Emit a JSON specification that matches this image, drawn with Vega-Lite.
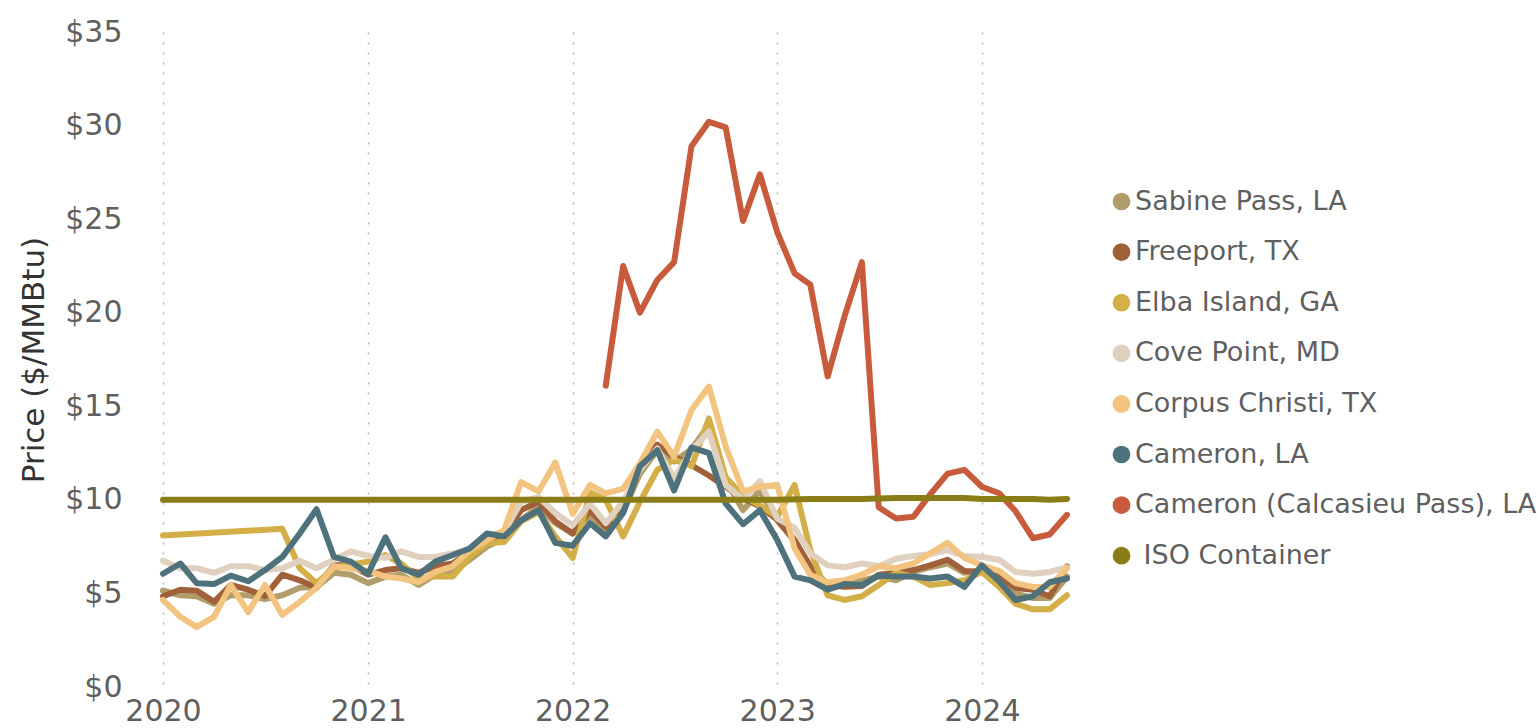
{
"$schema": "https://vega.github.io/schema/vega-lite/v6.json",
"width": 904, "height": 655,
"autosize": {"type": "none"},
"padding": {"left": 163, "top": 32, "right": 471, "bottom": 41},
"background": "white",
"config": {"view": {"stroke": null}, "font": "DejaVu Sans"},
"data": {"values": [
{"date":"2020-01-01","series":"Sabine Pass, LA","price":5.15},{"date":"2020-02-01","series":"Sabine Pass, LA","price":4.9},{"date":"2020-03-01","series":"Sabine Pass, LA","price":4.85},{"date":"2020-04-01","series":"Sabine Pass, LA","price":4.45},{"date":"2020-05-01","series":"Sabine Pass, LA","price":4.9},{"date":"2020-06-01","series":"Sabine Pass, LA","price":4.9},{"date":"2020-07-01","series":"Sabine Pass, LA","price":4.7},{"date":"2020-08-01","series":"Sabine Pass, LA","price":4.9},{"date":"2020-09-01","series":"Sabine Pass, LA","price":5.3},{"date":"2020-10-01","series":"Sabine Pass, LA","price":5.35},{"date":"2020-11-01","series":"Sabine Pass, LA","price":6.1},{"date":"2020-12-01","series":"Sabine Pass, LA","price":6.0},
{"date":"2021-01-01","series":"Sabine Pass, LA","price":5.55},{"date":"2021-02-01","series":"Sabine Pass, LA","price":5.9},{"date":"2021-03-01","series":"Sabine Pass, LA","price":6.0},{"date":"2021-04-01","series":"Sabine Pass, LA","price":5.45},{"date":"2021-05-01","series":"Sabine Pass, LA","price":6.0},{"date":"2021-06-01","series":"Sabine Pass, LA","price":6.15},{"date":"2021-07-01","series":"Sabine Pass, LA","price":6.8},{"date":"2021-08-01","series":"Sabine Pass, LA","price":7.5},{"date":"2021-09-01","series":"Sabine Pass, LA","price":7.95},{"date":"2021-10-01","series":"Sabine Pass, LA","price":8.9},{"date":"2021-11-01","series":"Sabine Pass, LA","price":9.65},{"date":"2021-12-01","series":"Sabine Pass, LA","price":8.75},
{"date":"2022-01-01","series":"Sabine Pass, LA","price":8.2},{"date":"2022-02-01","series":"Sabine Pass, LA","price":9.2},{"date":"2022-03-01","series":"Sabine Pass, LA","price":8.35},{"date":"2022-04-01","series":"Sabine Pass, LA","price":9.35},{"date":"2022-05-01","series":"Sabine Pass, LA","price":11.4},{"date":"2022-06-01","series":"Sabine Pass, LA","price":12.65},{"date":"2022-07-01","series":"Sabine Pass, LA","price":12.05},{"date":"2022-08-01","series":"Sabine Pass, LA","price":12.7},{"date":"2022-09-01","series":"Sabine Pass, LA","price":14.0},{"date":"2022-10-01","series":"Sabine Pass, LA","price":11.05},{"date":"2022-11-01","series":"Sabine Pass, LA","price":9.45},{"date":"2022-12-01","series":"Sabine Pass, LA","price":10.5},
{"date":"2023-01-01","series":"Sabine Pass, LA","price":8.9},{"date":"2023-02-01","series":"Sabine Pass, LA","price":7.8},{"date":"2023-03-01","series":"Sabine Pass, LA","price":6.25},{"date":"2023-04-01","series":"Sabine Pass, LA","price":5.55},{"date":"2023-05-01","series":"Sabine Pass, LA","price":5.65},{"date":"2023-06-01","series":"Sabine Pass, LA","price":5.7},{"date":"2023-07-01","series":"Sabine Pass, LA","price":5.9},{"date":"2023-08-01","series":"Sabine Pass, LA","price":5.7},{"date":"2023-09-01","series":"Sabine Pass, LA","price":6.15},{"date":"2023-10-01","series":"Sabine Pass, LA","price":6.4},{"date":"2023-11-01","series":"Sabine Pass, LA","price":6.6},{"date":"2023-12-01","series":"Sabine Pass, LA","price":6.1},
{"date":"2024-01-01","series":"Sabine Pass, LA","price":6.25},{"date":"2024-02-01","series":"Sabine Pass, LA","price":5.7},{"date":"2024-03-01","series":"Sabine Pass, LA","price":5.0},{"date":"2024-04-01","series":"Sabine Pass, LA","price":4.75},{"date":"2024-05-01","series":"Sabine Pass, LA","price":4.75},{"date":"2024-06-01","series":"Sabine Pass, LA","price":5.9},

{"date":"2020-01-01","series":"Freeport, TX","price":4.85},{"date":"2020-02-01","series":"Freeport, TX","price":5.2},{"date":"2020-03-01","series":"Freeport, TX","price":5.15},{"date":"2020-04-01","series":"Freeport, TX","price":4.55},{"date":"2020-05-01","series":"Freeport, TX","price":5.45},{"date":"2020-06-01","series":"Freeport, TX","price":5.2},{"date":"2020-07-01","series":"Freeport, TX","price":4.85},{"date":"2020-08-01","series":"Freeport, TX","price":6.0},{"date":"2020-09-01","series":"Freeport, TX","price":5.7},{"date":"2020-10-01","series":"Freeport, TX","price":5.3},{"date":"2020-11-01","series":"Freeport, TX","price":6.5},{"date":"2020-12-01","series":"Freeport, TX","price":6.5},
{"date":"2021-01-01","series":"Freeport, TX","price":6.0},{"date":"2021-02-01","series":"Freeport, TX","price":6.25},{"date":"2021-03-01","series":"Freeport, TX","price":6.35},{"date":"2021-04-01","series":"Freeport, TX","price":6.1},{"date":"2021-05-01","series":"Freeport, TX","price":6.45},{"date":"2021-06-01","series":"Freeport, TX","price":6.6},{"date":"2021-07-01","series":"Freeport, TX","price":7.25},{"date":"2021-08-01","series":"Freeport, TX","price":7.85},{"date":"2021-09-01","series":"Freeport, TX","price":8.2},{"date":"2021-10-01","series":"Freeport, TX","price":9.45},{"date":"2021-11-01","series":"Freeport, TX","price":9.9},{"date":"2021-12-01","series":"Freeport, TX","price":8.85},
{"date":"2022-01-01","series":"Freeport, TX","price":8.2},{"date":"2022-02-01","series":"Freeport, TX","price":9.45},{"date":"2022-03-01","series":"Freeport, TX","price":8.55},{"date":"2022-04-01","series":"Freeport, TX","price":9.45},{"date":"2022-05-01","series":"Freeport, TX","price":11.7},{"date":"2022-06-01","series":"Freeport, TX","price":12.95},{"date":"2022-07-01","series":"Freeport, TX","price":12.3},{"date":"2022-08-01","series":"Freeport, TX","price":11.85},{"date":"2022-09-01","series":"Freeport, TX","price":11.3},{"date":"2022-10-01","series":"Freeport, TX","price":10.7},{"date":"2022-11-01","series":"Freeport, TX","price":10.1},{"date":"2022-12-01","series":"Freeport, TX","price":9.65},
{"date":"2023-01-01","series":"Freeport, TX","price":8.95},{"date":"2023-02-01","series":"Freeport, TX","price":7.85},{"date":"2023-03-01","series":"Freeport, TX","price":6.45},{"date":"2023-04-01","series":"Freeport, TX","price":5.45},{"date":"2023-05-01","series":"Freeport, TX","price":5.35},{"date":"2023-06-01","series":"Freeport, TX","price":5.4},{"date":"2023-07-01","series":"Freeport, TX","price":6.0},{"date":"2023-08-01","series":"Freeport, TX","price":6.1},{"date":"2023-09-01","series":"Freeport, TX","price":6.25},{"date":"2023-10-01","series":"Freeport, TX","price":6.5},{"date":"2023-11-01","series":"Freeport, TX","price":6.8},{"date":"2023-12-01","series":"Freeport, TX","price":6.2},
{"date":"2024-01-01","series":"Freeport, TX","price":6.15},{"date":"2024-02-01","series":"Freeport, TX","price":5.9},{"date":"2024-03-01","series":"Freeport, TX","price":5.3},{"date":"2024-04-01","series":"Freeport, TX","price":5.2},{"date":"2024-05-01","series":"Freeport, TX","price":4.85},{"date":"2024-06-01","series":"Freeport, TX","price":6.45},

{"date":"2020-01-01","series":"Elba Island, GA","price":8.1},{"date":"2020-08-01","series":"Elba Island, GA","price":8.45},{"date":"2020-09-01","series":"Elba Island, GA","price":6.35},{"date":"2020-10-01","series":"Elba Island, GA","price":5.55},{"date":"2020-11-01","series":"Elba Island, GA","price":6.35},{"date":"2020-12-01","series":"Elba Island, GA","price":6.55},
{"date":"2021-01-01","series":"Elba Island, GA","price":6.7},{"date":"2021-02-01","series":"Elba Island, GA","price":7.05},{"date":"2021-03-01","series":"Elba Island, GA","price":6.6},{"date":"2021-04-01","series":"Elba Island, GA","price":5.8},{"date":"2021-05-01","series":"Elba Island, GA","price":5.9},{"date":"2021-06-01","series":"Elba Island, GA","price":5.9},{"date":"2021-07-01","series":"Elba Island, GA","price":6.95},{"date":"2021-08-01","series":"Elba Island, GA","price":7.7},{"date":"2021-09-01","series":"Elba Island, GA","price":7.75},{"date":"2021-10-01","series":"Elba Island, GA","price":8.85},{"date":"2021-11-01","series":"Elba Island, GA","price":9.35},{"date":"2021-12-01","series":"Elba Island, GA","price":8.05},
{"date":"2022-01-01","series":"Elba Island, GA","price":6.9},{"date":"2022-02-01","series":"Elba Island, GA","price":10.4},{"date":"2022-03-01","series":"Elba Island, GA","price":10.0},{"date":"2022-04-01","series":"Elba Island, GA","price":8.05},{"date":"2022-05-01","series":"Elba Island, GA","price":9.9},{"date":"2022-06-01","series":"Elba Island, GA","price":11.6},{"date":"2022-07-01","series":"Elba Island, GA","price":12.15},{"date":"2022-08-01","series":"Elba Island, GA","price":11.8},{"date":"2022-09-01","series":"Elba Island, GA","price":14.35},{"date":"2022-10-01","series":"Elba Island, GA","price":11.2},{"date":"2022-11-01","series":"Elba Island, GA","price":10.2},{"date":"2022-12-01","series":"Elba Island, GA","price":9.7},
{"date":"2023-01-01","series":"Elba Island, GA","price":9.1},{"date":"2023-02-01","series":"Elba Island, GA","price":10.8},{"date":"2023-03-01","series":"Elba Island, GA","price":7.3},{"date":"2023-04-01","series":"Elba Island, GA","price":4.9},{"date":"2023-05-01","series":"Elba Island, GA","price":4.65},{"date":"2023-06-01","series":"Elba Island, GA","price":4.85},{"date":"2023-07-01","series":"Elba Island, GA","price":5.45},{"date":"2023-08-01","series":"Elba Island, GA","price":6.1},{"date":"2023-09-01","series":"Elba Island, GA","price":5.9},{"date":"2023-10-01","series":"Elba Island, GA","price":5.45},{"date":"2023-11-01","series":"Elba Island, GA","price":5.55},{"date":"2023-12-01","series":"Elba Island, GA","price":5.7},
{"date":"2024-01-01","series":"Elba Island, GA","price":6.15},{"date":"2024-02-01","series":"Elba Island, GA","price":5.35},{"date":"2024-03-01","series":"Elba Island, GA","price":4.45},{"date":"2024-04-01","series":"Elba Island, GA","price":4.15},{"date":"2024-05-01","series":"Elba Island, GA","price":4.15},{"date":"2024-06-01","series":"Elba Island, GA","price":4.9},

{"date":"2020-01-01","series":"Cove Point, MD","price":6.75},{"date":"2020-02-01","series":"Cove Point, MD","price":6.35},{"date":"2020-03-01","series":"Cove Point, MD","price":6.35},{"date":"2020-04-01","series":"Cove Point, MD","price":6.1},{"date":"2020-05-01","series":"Cove Point, MD","price":6.45},{"date":"2020-06-01","series":"Cove Point, MD","price":6.45},{"date":"2020-07-01","series":"Cove Point, MD","price":6.25},{"date":"2020-08-01","series":"Cove Point, MD","price":6.35},{"date":"2020-09-01","series":"Cove Point, MD","price":6.75},{"date":"2020-10-01","series":"Cove Point, MD","price":6.35},{"date":"2020-11-01","series":"Cove Point, MD","price":6.8},{"date":"2020-12-01","series":"Cove Point, MD","price":7.25},
{"date":"2021-01-01","series":"Cove Point, MD","price":7.0},{"date":"2021-02-01","series":"Cove Point, MD","price":6.9},{"date":"2021-03-01","series":"Cove Point, MD","price":7.25},{"date":"2021-04-01","series":"Cove Point, MD","price":6.95},{"date":"2021-05-01","series":"Cove Point, MD","price":6.95},{"date":"2021-06-01","series":"Cove Point, MD","price":7.15},{"date":"2021-07-01","series":"Cove Point, MD","price":7.3},{"date":"2021-08-01","series":"Cove Point, MD","price":8.05},{"date":"2021-09-01","series":"Cove Point, MD","price":8.3},{"date":"2021-10-01","series":"Cove Point, MD","price":9.9},{"date":"2021-11-01","series":"Cove Point, MD","price":10.15},{"date":"2021-12-01","series":"Cove Point, MD","price":9.3},
{"date":"2022-01-01","series":"Cove Point, MD","price":8.65},{"date":"2022-02-01","series":"Cove Point, MD","price":9.8},{"date":"2022-03-01","series":"Cove Point, MD","price":8.75},{"date":"2022-04-01","series":"Cove Point, MD","price":9.9},{"date":"2022-05-01","series":"Cove Point, MD","price":11.6},{"date":"2022-06-01","series":"Cove Point, MD","price":12.75},{"date":"2022-07-01","series":"Cove Point, MD","price":11.15},{"date":"2022-08-01","series":"Cove Point, MD","price":12.65},{"date":"2022-09-01","series":"Cove Point, MD","price":13.65},{"date":"2022-10-01","series":"Cove Point, MD","price":10.8},{"date":"2022-11-01","series":"Cove Point, MD","price":10.0},{"date":"2022-12-01","series":"Cove Point, MD","price":11.0},
{"date":"2023-01-01","series":"Cove Point, MD","price":9.0},{"date":"2023-02-01","series":"Cove Point, MD","price":8.5},{"date":"2023-03-01","series":"Cove Point, MD","price":7.15},{"date":"2023-04-01","series":"Cove Point, MD","price":6.5},{"date":"2023-05-01","series":"Cove Point, MD","price":6.4},{"date":"2023-06-01","series":"Cove Point, MD","price":6.6},{"date":"2023-07-01","series":"Cove Point, MD","price":6.45},{"date":"2023-08-01","series":"Cove Point, MD","price":6.85},{"date":"2023-09-01","series":"Cove Point, MD","price":7.0},{"date":"2023-10-01","series":"Cove Point, MD","price":7.1},{"date":"2023-11-01","series":"Cove Point, MD","price":7.3},{"date":"2023-12-01","series":"Cove Point, MD","price":7.0},
{"date":"2024-01-01","series":"Cove Point, MD","price":6.95},{"date":"2024-02-01","series":"Cove Point, MD","price":6.8},{"date":"2024-03-01","series":"Cove Point, MD","price":6.15},{"date":"2024-04-01","series":"Cove Point, MD","price":6.05},{"date":"2024-05-01","series":"Cove Point, MD","price":6.15},{"date":"2024-06-01","series":"Cove Point, MD","price":6.4},

{"date":"2020-01-01","series":"Corpus Christi, TX","price":4.65},{"date":"2020-02-01","series":"Corpus Christi, TX","price":3.75},{"date":"2020-03-01","series":"Corpus Christi, TX","price":3.2},{"date":"2020-04-01","series":"Corpus Christi, TX","price":3.75},{"date":"2020-05-01","series":"Corpus Christi, TX","price":5.45},{"date":"2020-06-01","series":"Corpus Christi, TX","price":4.0},{"date":"2020-07-01","series":"Corpus Christi, TX","price":5.45},{"date":"2020-08-01","series":"Corpus Christi, TX","price":3.85},{"date":"2020-09-01","series":"Corpus Christi, TX","price":4.55},{"date":"2020-10-01","series":"Corpus Christi, TX","price":5.3},{"date":"2020-11-01","series":"Corpus Christi, TX","price":6.45},{"date":"2020-12-01","series":"Corpus Christi, TX","price":6.35},
{"date":"2021-01-01","series":"Corpus Christi, TX","price":6.2},{"date":"2021-02-01","series":"Corpus Christi, TX","price":5.9},{"date":"2021-03-01","series":"Corpus Christi, TX","price":5.8},{"date":"2021-04-01","series":"Corpus Christi, TX","price":5.6},{"date":"2021-05-01","series":"Corpus Christi, TX","price":6.15},{"date":"2021-06-01","series":"Corpus Christi, TX","price":6.45},{"date":"2021-07-01","series":"Corpus Christi, TX","price":7.3},{"date":"2021-08-01","series":"Corpus Christi, TX","price":7.85},{"date":"2021-09-01","series":"Corpus Christi, TX","price":8.4},{"date":"2021-10-01","series":"Corpus Christi, TX","price":10.95},{"date":"2021-11-01","series":"Corpus Christi, TX","price":10.45},{"date":"2021-12-01","series":"Corpus Christi, TX","price":12.0},
{"date":"2022-01-01","series":"Corpus Christi, TX","price":9.25},{"date":"2022-02-01","series":"Corpus Christi, TX","price":10.8},{"date":"2022-03-01","series":"Corpus Christi, TX","price":10.35},{"date":"2022-04-01","series":"Corpus Christi, TX","price":10.6},{"date":"2022-05-01","series":"Corpus Christi, TX","price":11.95},{"date":"2022-06-01","series":"Corpus Christi, TX","price":13.65},{"date":"2022-07-01","series":"Corpus Christi, TX","price":12.3},{"date":"2022-08-01","series":"Corpus Christi, TX","price":14.8},{"date":"2022-09-01","series":"Corpus Christi, TX","price":16.05},{"date":"2022-10-01","series":"Corpus Christi, TX","price":12.85},{"date":"2022-11-01","series":"Corpus Christi, TX","price":10.45},{"date":"2022-12-01","series":"Corpus Christi, TX","price":10.7},
{"date":"2023-01-01","series":"Corpus Christi, TX","price":10.8},{"date":"2023-02-01","series":"Corpus Christi, TX","price":7.4},{"date":"2023-03-01","series":"Corpus Christi, TX","price":6.0},{"date":"2023-04-01","series":"Corpus Christi, TX","price":5.6},{"date":"2023-05-01","series":"Corpus Christi, TX","price":5.7},{"date":"2023-06-01","series":"Corpus Christi, TX","price":6.0},{"date":"2023-07-01","series":"Corpus Christi, TX","price":6.45},{"date":"2023-08-01","series":"Corpus Christi, TX","price":6.35},{"date":"2023-09-01","series":"Corpus Christi, TX","price":6.6},{"date":"2023-10-01","series":"Corpus Christi, TX","price":7.15},{"date":"2023-11-01","series":"Corpus Christi, TX","price":7.7},{"date":"2023-12-01","series":"Corpus Christi, TX","price":6.9},
{"date":"2024-01-01","series":"Corpus Christi, TX","price":6.5},{"date":"2024-02-01","series":"Corpus Christi, TX","price":6.2},{"date":"2024-03-01","series":"Corpus Christi, TX","price":5.55},{"date":"2024-04-01","series":"Corpus Christi, TX","price":5.35},{"date":"2024-05-01","series":"Corpus Christi, TX","price":5.35},{"date":"2024-06-01","series":"Corpus Christi, TX","price":6.35},

{"date":"2020-01-01","series":"Cameron, LA","price":6.05},{"date":"2020-02-01","series":"Cameron, LA","price":6.6},{"date":"2020-03-01","series":"Cameron, LA","price":5.55},{"date":"2020-04-01","series":"Cameron, LA","price":5.5},{"date":"2020-05-01","series":"Cameron, LA","price":5.95},{"date":"2020-06-01","series":"Cameron, LA","price":5.65},{"date":"2020-07-01","series":"Cameron, LA","price":6.25},{"date":"2020-08-01","series":"Cameron, LA","price":6.95},{"date":"2020-09-01","series":"Cameron, LA","price":8.2},{"date":"2020-10-01","series":"Cameron, LA","price":9.5},{"date":"2020-11-01","series":"Cameron, LA","price":6.95},{"date":"2020-12-01","series":"Cameron, LA","price":6.7},
{"date":"2021-01-01","series":"Cameron, LA","price":6.05},{"date":"2021-02-01","series":"Cameron, LA","price":8.0},{"date":"2021-03-01","series":"Cameron, LA","price":6.35},{"date":"2021-04-01","series":"Cameron, LA","price":6.0},{"date":"2021-05-01","series":"Cameron, LA","price":6.7},{"date":"2021-06-01","series":"Cameron, LA","price":7.05},{"date":"2021-07-01","series":"Cameron, LA","price":7.4},{"date":"2021-08-01","series":"Cameron, LA","price":8.2},{"date":"2021-09-01","series":"Cameron, LA","price":8.05},{"date":"2021-10-01","series":"Cameron, LA","price":8.9},{"date":"2021-11-01","series":"Cameron, LA","price":9.45},{"date":"2021-12-01","series":"Cameron, LA","price":7.7},
{"date":"2022-01-01","series":"Cameron, LA","price":7.55},{"date":"2022-02-01","series":"Cameron, LA","price":8.75},{"date":"2022-03-01","series":"Cameron, LA","price":8.05},{"date":"2022-04-01","series":"Cameron, LA","price":9.3},{"date":"2022-05-01","series":"Cameron, LA","price":11.8},{"date":"2022-06-01","series":"Cameron, LA","price":12.65},{"date":"2022-07-01","series":"Cameron, LA","price":10.5},{"date":"2022-08-01","series":"Cameron, LA","price":12.8},{"date":"2022-09-01","series":"Cameron, LA","price":12.5},{"date":"2022-10-01","series":"Cameron, LA","price":9.8},{"date":"2022-11-01","series":"Cameron, LA","price":8.7},{"date":"2022-12-01","series":"Cameron, LA","price":9.45},
{"date":"2023-01-01","series":"Cameron, LA","price":7.85},{"date":"2023-02-01","series":"Cameron, LA","price":5.9},{"date":"2023-03-01","series":"Cameron, LA","price":5.7},{"date":"2023-04-01","series":"Cameron, LA","price":5.2},{"date":"2023-05-01","series":"Cameron, LA","price":5.5},{"date":"2023-06-01","series":"Cameron, LA","price":5.45},{"date":"2023-07-01","series":"Cameron, LA","price":5.95},{"date":"2023-08-01","series":"Cameron, LA","price":5.9},{"date":"2023-09-01","series":"Cameron, LA","price":5.9},{"date":"2023-10-01","series":"Cameron, LA","price":5.8},{"date":"2023-11-01","series":"Cameron, LA","price":5.9},{"date":"2023-12-01","series":"Cameron, LA","price":5.35},
{"date":"2024-01-01","series":"Cameron, LA","price":6.5},{"date":"2024-02-01","series":"Cameron, LA","price":5.65},{"date":"2024-03-01","series":"Cameron, LA","price":4.65},{"date":"2024-04-01","series":"Cameron, LA","price":4.85},{"date":"2024-05-01","series":"Cameron, LA","price":5.6},{"date":"2024-06-01","series":"Cameron, LA","price":5.8},

{"date":"2022-03-01","series":"Cameron (Calcasieu Pass), LA","price":16.1},{"date":"2022-04-01","series":"Cameron (Calcasieu Pass), LA","price":22.5},{"date":"2022-05-01","series":"Cameron (Calcasieu Pass), LA","price":20.0},{"date":"2022-06-01","series":"Cameron (Calcasieu Pass), LA","price":21.75},{"date":"2022-07-01","series":"Cameron (Calcasieu Pass), LA","price":22.7},{"date":"2022-08-01","series":"Cameron (Calcasieu Pass), LA","price":28.9},{"date":"2022-09-01","series":"Cameron (Calcasieu Pass), LA","price":30.2},{"date":"2022-10-01","series":"Cameron (Calcasieu Pass), LA","price":29.9},{"date":"2022-11-01","series":"Cameron (Calcasieu Pass), LA","price":24.9},{"date":"2022-12-01","series":"Cameron (Calcasieu Pass), LA","price":27.4},
{"date":"2023-01-01","series":"Cameron (Calcasieu Pass), LA","price":24.3},{"date":"2023-02-01","series":"Cameron (Calcasieu Pass), LA","price":22.1},{"date":"2023-03-01","series":"Cameron (Calcasieu Pass), LA","price":21.5},{"date":"2023-04-01","series":"Cameron (Calcasieu Pass), LA","price":16.6},{"date":"2023-05-01","series":"Cameron (Calcasieu Pass), LA","price":19.8},{"date":"2023-06-01","series":"Cameron (Calcasieu Pass), LA","price":22.7},{"date":"2023-07-01","series":"Cameron (Calcasieu Pass), LA","price":9.6},{"date":"2023-08-01","series":"Cameron (Calcasieu Pass), LA","price":9.0},{"date":"2023-09-01","series":"Cameron (Calcasieu Pass), LA","price":9.1},{"date":"2023-10-01","series":"Cameron (Calcasieu Pass), LA","price":10.3},{"date":"2023-11-01","series":"Cameron (Calcasieu Pass), LA","price":11.4},{"date":"2023-12-01","series":"Cameron (Calcasieu Pass), LA","price":11.6},
{"date":"2024-01-01","series":"Cameron (Calcasieu Pass), LA","price":10.7},{"date":"2024-02-01","series":"Cameron (Calcasieu Pass), LA","price":10.35},{"date":"2024-03-01","series":"Cameron (Calcasieu Pass), LA","price":9.4},{"date":"2024-04-01","series":"Cameron (Calcasieu Pass), LA","price":7.95},{"date":"2024-05-01","series":"Cameron (Calcasieu Pass), LA","price":8.15},{"date":"2024-06-01","series":"Cameron (Calcasieu Pass), LA","price":9.2},

{"date":"2020-01-01","series":"\u200b ISO Container","price":10.0},{"date":"2020-07-01","series":"\u200b ISO Container","price":10.0},{"date":"2021-01-01","series":"\u200b ISO Container","price":10.0},{"date":"2021-07-01","series":"\u200b ISO Container","price":10.0},{"date":"2022-01-01","series":"\u200b ISO Container","price":10.0},{"date":"2022-07-01","series":"\u200b ISO Container","price":10.0},
{"date":"2023-01-01","series":"\u200b ISO Container","price":10.0},{"date":"2023-03-01","series":"\u200b ISO Container","price":10.05},{"date":"2023-06-01","series":"\u200b ISO Container","price":10.05},{"date":"2023-08-01","series":"\u200b ISO Container","price":10.1},{"date":"2023-12-01","series":"\u200b ISO Container","price":10.1},
{"date":"2024-01-01","series":"\u200b ISO Container","price":10.05},{"date":"2024-04-01","series":"\u200b ISO Container","price":10.05},{"date":"2024-05-01","series":"\u200b ISO Container","price":10.0},{"date":"2024-06-01","series":"\u200b ISO Container","price":10.05}
]},
"mark": {"type": "line", "strokeWidth": 6, "strokeCap": "round", "strokeJoin": "round"},
"encoding": {
  "x": {"field": "date", "type": "temporal",
    "scale": {"type": "utc", "domain": [{"year": 2020, "month": 1, "date": 1, "utc": true}, {"year": 2024, "month": 6, "date": 1, "utc": true}]},
    "axis": {"title": null, "format": "%Y", "formatType": "utc",
      "values": [{"year": 2020, "month": 1, "date": 1, "utc": true}, {"year": 2021, "month": 1, "date": 1, "utc": true}, {"year": 2022, "month": 1, "date": 1, "utc": true}, {"year": 2023, "month": 1, "date": 1, "utc": true}, {"year": 2024, "month": 1, "date": 1, "utc": true}],
      "grid": true, "gridDash": [2, 8], "gridColor": "#b5b5b5", "gridWidth": 1.5,
      "domain": false, "ticks": false, "labelFlush": false, "labelOverlap": false, "labelFontSize": 30, "labelColor": "#5f5f5f", "labelPadding": 9, "labelFont": "DejaVu Sans"}},
  "y": {"field": "price", "type": "quantitative",
    "scale": {"domain": [0, 35], "nice": false},
    "axis": {"title": "Price ($/MMBtu)", "values": [0, 5, 10, 15, 20, 25, 30, 35], "format": "$.0f",
      "grid": false, "domain": false, "ticks": false, "labelFontSize": 30, "labelColor": "#5f5f5f", "labelPadding": 41,
      "titleFontSize": 31, "titleFontWeight": "normal", "titleColor": "#333333", "titlePadding": 14, "labelFont": "DejaVu Sans", "titleFont": "DejaVu Sans"}},
  "color": {"field": "series", "type": "nominal",
    "scale": {"domain": ["Sabine Pass, LA", "Freeport, TX", "Elba Island, GA", "Cove Point, MD", "Corpus Christi, TX", "Cameron, LA", "Cameron (Calcasieu Pass), LA", "\u200b ISO Container"],
      "range": ["#B09D6A", "#A0603A", "#D4AF48", "#DFD0BF", "#F2C47F", "#4E717B", "#C75B3C", "#8A7D18"]},
    "legend": {"title": null, "orient": "none", "legendX": 945, "legendY": 156, "symbolType": "circle", "symbolSize": 314,
      "labelFontSize": 27, "labelColor": "#5f5f5f", "labelFont": "DejaVu Sans", "rowPadding": 22.6, "labelOffset": 0, "labelLimit": 500,
      "symbolStrokeWidth": 0, "symbolOpacity": 1,
      "encode": {"symbols": {"update": {"fill": {"scale": "color", "field": "value"}, "strokeWidth": {"value": 0}, "opacity": {"value": 1}}}}}}
}
}
